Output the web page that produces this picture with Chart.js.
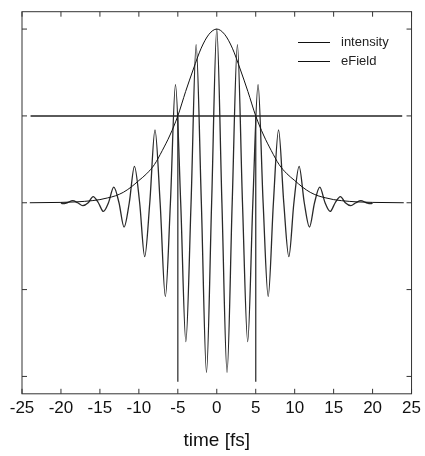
<!DOCTYPE html>
<html>
<head>
<meta charset="utf-8">
<script src="https://cdn.jsdelivr.net/npm/chart.js@4.4.1/dist/chart.umd.min.js"></script>
<style>
  html, body { margin: 0; padding: 0; background: #fff; }
  #wrap { width: 425px; height: 456px; }
</style>
</head>
<body>
<div id="wrap"><canvas id="c" width="425" height="456"></canvas></div>
<script>
// intensity envelope
const intensityTime = [-24, -20, -18, -16, -15, -14, -13, -12, -11, -10, -9, -8, -7, -6, -5, -4, -3, -2, -1, 0,
  1, 2, 3, 4, 5, 6, 7, 8, 9, 10, 11, 12, 13, 14, 15, 16, 18, 20, 24];
const intensityValue = [0, 0.002, 0.005, 0.012, 0.018, 0.028, 0.04, 0.06, 0.09, 0.128, 0.167, 0.22, 0.30, 0.39, 0.5, 0.64, 0.77, 0.89, 0.97, 1.0,
  0.97, 0.89, 0.77, 0.64, 0.5, 0.39, 0.30, 0.22, 0.167, 0.128, 0.09, 0.06, 0.04, 0.028, 0.018, 0.012, 0.005, 0.002, 0];

// electric field: extrema and zero crossings
const fieldTime = [-20, -19.8, -19.2, -18.5, -17.85, -17.2, -16.5, -15.87, -15.2, -14.55, -13.9, -13.22, -12.55, -11.9, -11.23,
  -10.57, -9.9, -9.25, -8.6, -7.93, -7.27, -6.6, -5.95, -5.3, -4.63, -3.97, -3.3, -2.65, -1.98, -1.32, -0.66, 0,
  0.66, 1.32, 1.98, 2.65, 3.3, 3.97, 4.63, 5.3, 5.95, 6.6, 7.27, 7.93, 8.6, 9.25, 9.9, 10.57, 11.23, 11.9, 12.55,
  13.22, 13.9, 14.55, 15.2, 15.87, 16.5, 17.2, 17.85, 18.5, 19.2, 19.8, 20];
const fieldValue = [0, -0.005, 0, 0.012, 0, -0.017, 0, 0.035, 0, -0.05, 0, 0.09, 0, -0.14, 0,
  0.21, 0, -0.31, 0, 0.42, 0, -0.54, 0, 0.68, 0, -0.80, 0, 0.91, 0, -0.977, 0, 1.0,
  0, -0.977, 0, 0.91, 0, -0.80, 0, 0.68, 0, -0.54, 0, 0.42, 0, -0.31, 0, 0.21, 0, -0.14, 0,
  0.09, 0, -0.05, 0, 0.035, 0, -0.017, 0, 0.012, 0, -0.005, 0];

// half-maximum markers
const halfLevel = 0.5;
const halfLevelSpan = [-23.9, 23.8];
const halfWidthTimes = [-5, 5];
const markerBottom = -1.03;

const xTicks = [-25, -20, -15, -10, -5, 0, 5, 10, 15, 20, 25];
const yTicks = [-1, -0.5, 0, 0.5, 1];
const legendLabels = ["intensity", "eField"];

const pts = (xs, ys) => xs.map((x, i) => ({ x: x, y: ys[i] }));

const datasets = [
  {
    label: legendLabels[0],
    data: pts(intensityTime, intensityValue),
    borderColor: "#111",
    borderWidth: 1,
    cubicInterpolationMode: "monotone"
  },
  {
    label: legendLabels[1],
    data: pts(fieldTime, fieldValue),
    borderColor: "#2a2a2a",
    borderWidth: 1.3,
    cubicInterpolationMode: "monotone"
  },
  {
    label: "",
    data: pts(halfLevelSpan, [halfLevel, halfLevel]),
    borderColor: "#5a5a5a",
    borderWidth: 2
  }
];
halfWidthTimes.forEach(t => {
  datasets.push({
    label: "",
    data: pts([t, t], [markerBottom, halfLevel]),
    borderColor: "#444",
    borderWidth: 1.4
  });
});

// frame with inward ticks on all four sides
const frameTicks = {
  id: "frameTicks",
  afterDraw(chart) {
    const { ctx, chartArea: a, scales } = chart;
    ctx.save();
    ctx.strokeStyle = "#333";
    ctx.lineWidth = 1;
    ctx.strokeRect(a.left, a.top, a.right - a.left, a.bottom - a.top);
    ctx.beginPath();
    xTicks.forEach(v => {
      const px = scales.x.getPixelForValue(v);
      ctx.moveTo(px, a.bottom); ctx.lineTo(px, a.bottom - 5);
      ctx.moveTo(px, a.top); ctx.lineTo(px, a.top + 5);
    });
    yTicks.forEach(v => {
      const py = scales.y.getPixelForValue(v);
      ctx.moveTo(a.left, py); ctx.lineTo(a.left + 5, py);
      ctx.moveTo(a.right, py); ctx.lineTo(a.right - 5, py);
    });
    ctx.stroke();

    // legend inside the plot
    ctx.font = "13px 'Liberation Sans', Arial, sans-serif";
    ctx.textBaseline = "middle";
    ctx.fillStyle = "#222";
    legendLabels.forEach((lab, i) => {
      const y = 42.5 + i * 19;
      ctx.strokeStyle = "#111";
      ctx.beginPath();
      ctx.moveTo(298, y); ctx.lineTo(330, y);
      ctx.stroke();
      ctx.fillText(lab, 341, y);
    });
    ctx.restore();
  }
};

new Chart(document.getElementById("c"), {
  type: "scatter",
  data: { datasets: datasets },
  plugins: [frameTicks],
  options: {
    responsive: false,
    animation: false,
    showLine: true,
    elements: { point: { radius: 0 } },
    layout: { padding: { left: 22, right: 11.5, top: 11.7, bottom: 4 } },
    scales: {
      x: {
        type: "linear",
        min: -25,
        max: 25,
        grid: { display: false, drawTicks: false },
        border: { display: false },
        afterBuildTicks: s => { s.ticks = xTicks.map(v => ({ value: v })); },
        ticks: {
          autoSkip: false,
          maxRotation: 0,
          padding: 4,
          color: "#111",
          font: { family: "'Liberation Sans', Arial, sans-serif", size: 17 }
        },
        title: {
          display: true,
          text: "time [fs]",
          color: "#111",
          padding: { top: 7, bottom: 0 },
          font: { family: "'Liberation Sans', Arial, sans-serif", size: 19 }
        }
      },
      y: {
        type: "linear",
        min: -1.1,
        max: 1.1,
        display: false
      }
    },
    plugins: {
      legend: { display: false },
      tooltip: { enabled: false }
    }
  }
});
</script>
</body>
</html>
